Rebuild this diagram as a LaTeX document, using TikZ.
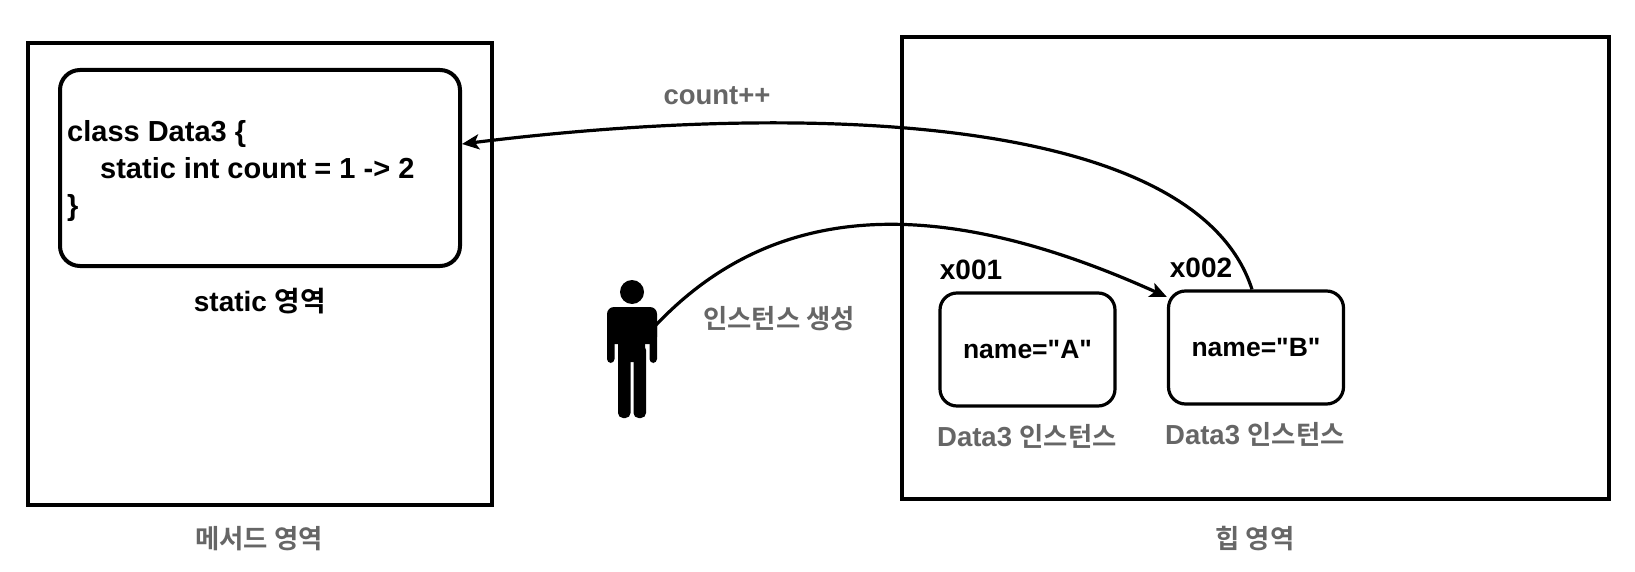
\documentclass[tikz,border=0pt]{standalone}
\usepackage{fontspec}
\setmainfont{Liberation Sans}
\newfontfamily\gfont{Liberation Sans Bold}
\newfontfamily\kofont{Noto Sans CJK KR Bold}[Scale=0.96]
\definecolor{lbl}{HTML}{666666}
\usetikzlibrary{arrows.meta}
\tikzset{
  areabox/.style={draw,line width=4.4pt,minimum width=#1,inner sep=0pt,anchor=north west},
  inst/.style={draw,line width=3.2pt,rounded corners=17pt,minimum width=175pt,minimum height=113pt,inner sep=0pt,font=\fontsize{26.5}{30}\selectfont\gfont},
  blk/.style={inner sep=0pt,font=\fontsize{28}{37}\selectfont\gfont},
  codetxt/.style={inner sep=0pt,font=\fontsize{29}{37}\selectfont\gfont},
  gry/.style={inner sep=0pt,text=lbl,font=\fontsize{27.5}{36}\selectfont\gfont},
  conn/.style={line width=3.2pt,-{Stealth[length=17pt,width=15pt,inset=4pt]}}
}
\begin{document}
\begin{tikzpicture}[x=1pt,y=-1pt]
\useasboundingbox (0,0) rectangle (1635,572);
% memory areas
\node[areabox=464pt,minimum height=462pt] (method) at (26,41) {};
\node[areabox=707pt,minimum height=462pt] (heap) at (900,35) {};
% static class box
\node[draw,line width=4pt,rounded corners=20pt,minimum width=400pt,minimum height=196pt,inner sep=0pt] (cls) at (260,168) {};
\node[codetxt,anchor=north west,align=left] (code) at (67,120) {class Data3 \{\\\hspace{33pt}static int count = 1 -> 2\\\}};
\node[blk] (statl) at (260,301) {static {\fontsize{29}{36}\selectfont\kofont 영역}};
% instances
\node[inst] (a) at (1027.5,349.5) {name="A"};
\node[inst] (b) at (1256,347.5) {name="B"};
\node[blk] (xa) at (971,270) {x001};
\node[blk] (xb) at (1201,268) {x002};
\node[gry] (la) at (1027,436) {Data3 {\kofont 인스턴스}};
\node[gry] (lb) at (1255,434) {Data3 {\kofont 인스턴스}};
% labels
\node[gry] (ml) at (259,539) {\kofont 메서드 영역};
\node[gry] (hl) at (1255,539) {\kofont 힙 영역};
\node[gry] (cl) at (717,96) {count++};
\node[gry] (il) at (779,319) {\kofont 인스턴스 생성};
% person
\fill (632,292) circle (12pt);
\fill[rounded corners=7pt] (607,344) -- (607,307) -- (657,307) -- (657,344) -- cycle;
\fill[rounded corners=2pt] (618,320) rectangle (645,362);
\fill[rounded corners=5pt] (618,345) -- (618,418) -- (630.5,418) -- (630.5,345) -- cycle;
\fill[rounded corners=5pt] (633.5,345) -- (633.5,418) -- (646,418) -- (646,345) -- cycle;
\fill[rounded corners=4pt] (607,320) rectangle (614.5,363);
\fill[rounded corners=4pt] (649.5,320) rectangle (657,363);
\coordinate (p) at (656,325);
\coordinate (bw) at (b.west|-0,297);
\coordinate (bt) at (1252,0|-b.north);
\coordinate (ce) at (cls.east|-0,144);
% connectors
\draw[conn] (p) .. controls (770,205) and (930,190) .. (bw);
\draw[conn] (bt) .. controls (1195,112) and (800,102) .. (ce);
\end{tikzpicture}
\end{document}
